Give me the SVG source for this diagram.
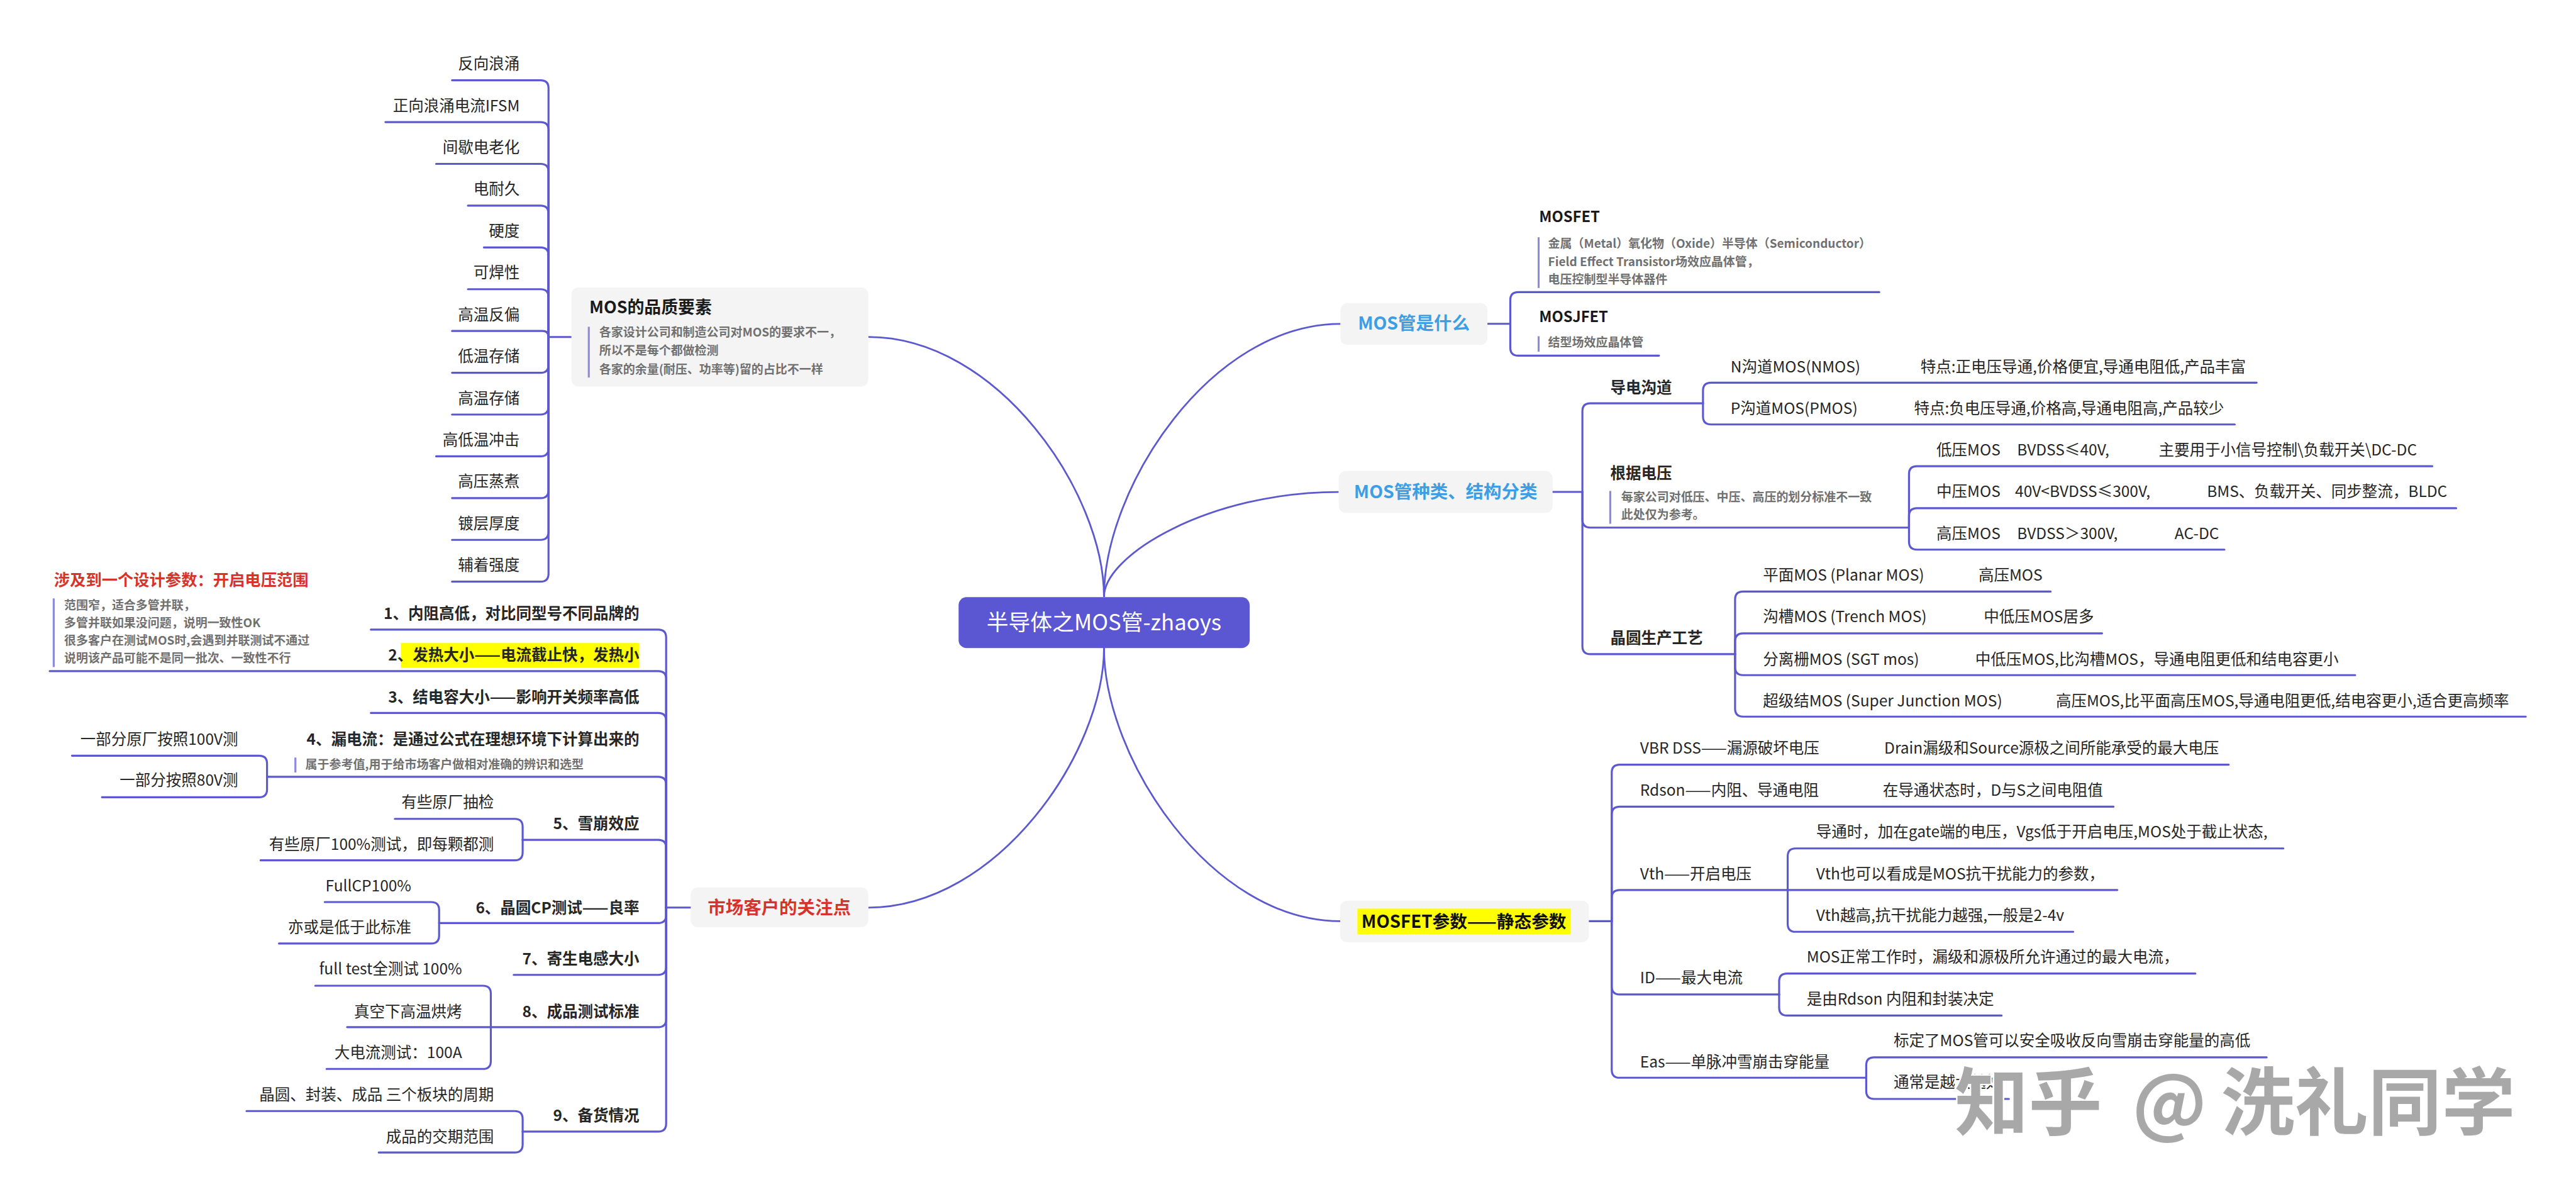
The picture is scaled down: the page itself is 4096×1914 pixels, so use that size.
<svg xmlns="http://www.w3.org/2000/svg" width="4096" height="1914" viewBox="0 0 4096 1914">
<style>
text{font-family:"Noto Sans CJK SC","Noto Sans",sans-serif;}
.t{font-size:31px;fill:#262626;}
.b{font-weight:bold;}
.e{text-anchor:end;}
.m{text-anchor:middle;}
.n{font-size:24px;font-weight:bold;fill:#707070;}
.k{fill:none;stroke:#5b58d0;stroke-width:4;stroke-linecap:round;stroke-linejoin:round;}
.c{fill:none;stroke:#5b58d0;stroke-width:3.5;}
.bx{fill:#f4f4f5;}
.bar{fill:#8e8adb;}
.blue{font-size:36px;font-weight:bold;fill:#3c9ee5;}
.ttl{font-size:30px;font-weight:bold;fill:#1a1a1a;}
</style>
<rect width="4096" height="1914" fill="#ffffff"/>
<g transform="scale(0.790734)">
<g id="connectors">
<path class="c" d="M2220,1200 C2220,991 2007,677.5 1746,677.5"/>
<path class="c" d="M2220,1200 C2220,980 2434,651 2695.5,651"/>
<path class="c" d="M2220,1200 C2220,1115.6 2432,989 2692,989"/>
<path class="c" d="M2220,1303 C2220,1511.6 2006.7,1824.6 1746,1824.6"/>
<path class="c" d="M2220,1303 C2220,1522.6 2434,1852 2695,1852"/>
<!-- quality list -->
<path class="k" d="M1149,677.5H1103"/>
<path class="k" d="M1103,677.5V177.4Q1103,161.4 1087,161.4H909"/>
<path class="k" d="M1103,677.5V261.4Q1103,245.4 1087,245.4H775"/>
<path class="k" d="M1103,677.5V345.4Q1103,329.4 1087,329.4H877"/>
<path class="k" d="M1103,677.5V429.4Q1103,413.4 1087,413.4H941"/>
<path class="k" d="M1103,677.5V513.4Q1103,497.4 1087,497.4H973"/>
<path class="k" d="M1103,677.5V597.4Q1103,581.4 1087,581.4H941"/>
<path class="k" d="M1103,677.5Q1103,665.4 1091,665.4H909"/>
<path class="k" d="M1103,677.5V733.4Q1103,749.4 1087,749.4H909"/>
<path class="k" d="M1103,677.5V817.4Q1103,833.4 1087,833.4H909"/>
<path class="k" d="M1103,677.5V901.4Q1103,917.4 1087,917.4H877"/>
<path class="k" d="M1103,677.5V985.4Q1103,1001.4 1087,1001.4H909"/>
<path class="k" d="M1103,677.5V1069.4Q1103,1085.4 1087,1085.4H909"/>
<path class="k" d="M1103,677.5V1153.4Q1103,1169.4 1087,1169.4H909"/>
<!-- what -->
<path class="k" d="M2991,651H3037"/>
<path class="k" d="M3037,651V603.3Q3037,587.3 3053,587.3H3779"/>
<path class="k" d="M3037,651V699Q3037,715 3053,715H3336"/>
<!-- kinds -->
<path class="k" d="M3122,989H3182"/>
<path class="k" d="M3182,989V826.7Q3182,810.7 3198,810.7H3424.5"/>
<path class="k" d="M3182,989V1044.7Q3182,1060.7 3198,1060.7H3838.7"/>
<path class="k" d="M3182,989V1299Q3182,1315 3198,1315H3489"/>
<path class="k" d="M3424.5,810.7V785.3Q3424.5,769.3 3440.5,769.3H4537.8"/>
<path class="k" d="M3424.5,810.7V837.3Q3424.5,853.3 3440.5,853.3H4493.8"/>
<path class="k" d="M3838.7,1060.7V953.3Q3838.7,937.3 3854.7,937.3H4891"/>
<path class="k" d="M3838.7,1060.7V1037.7Q3838.7,1021.7 3854.7,1021.7H4939"/>
<path class="k" d="M3838.7,1060.7V1089Q3838.7,1105 3854.7,1105H4473"/>
<path class="k" d="M3489,1315V1205.3Q3489,1189.3 3505,1189.3H4123.5"/>
<path class="k" d="M3489,1315V1289.3Q3489,1273.3 3505,1273.3H4227"/>
<path class="k" d="M3489,1315V1341.3Q3489,1357.3 3505,1357.3H4736"/>
<path class="k" d="M3489,1315V1424.7Q3489,1440.7 3505,1440.7H5079"/>
<!-- params -->
<path class="k" d="M3195,1852H3241"/>
<path class="k" d="M3241,1852V1553.3Q3241,1537.3 3257,1537.3H4481.6"/>
<path class="k" d="M3241,1852V1637.7Q3241,1621.7 3257,1621.7H4250"/>
<path class="k" d="M3241,1852V1805.3Q3241,1789.3 3257,1789.3H3594.8"/>
<path class="k" d="M3241,1852V1983.3Q3241,1999.3 3257,1999.3H3577.6"/>
<path class="k" d="M3241,1852V2150.7Q3241,2166.7 3257,2166.7H3752.7"/>
<path class="k" d="M3594.8,1789.3V1721.7Q3594.8,1705.7 3610.8,1705.7H4591.6"/>
<path class="k" d="M3594.8,1789.3H4257.7"/>
<path class="k" d="M3594.8,1789.3V1857.3Q3594.8,1873.3 3610.8,1873.3H4169"/>
<path class="k" d="M3577.6,1999.3V1973.3Q3577.6,1957.3 3593.6,1957.3H4414.6"/>
<path class="k" d="M3577.6,1999.3V2025.7Q3577.6,2041.7 3593.6,2041.7H4025"/>
<path class="k" d="M3752.7,2166.7V2141.7Q3752.7,2125.7 3768.7,2125.7H4558"/>
<path class="k" d="M3752.7,2166.7V2193.3Q3752.7,2209.3 3768.7,2209.3H4039.6"/>
<!-- market -->
<path class="k" d="M1389,1824.6H1339.5"/>
<path class="k" d="M1339.5,1824.6V1281.7Q1339.5,1265.7 1323.5,1265.7H745.7"/>
<path class="k" d="M1339.5,1824.6V1365.3Q1339.5,1349.3 1323.5,1349.3H100"/>
<path class="k" d="M1339.5,1824.6V1449.3Q1339.5,1433.3 1323.5,1433.3H745.7"/>
<path class="k" d="M1339.5,1824.6V1577.7Q1339.5,1561.7 1323.5,1561.7H537"/>
<path class="k" d="M1339.5,1824.6V1704.4Q1339.5,1688.4 1323.5,1688.4H1051"/>
<path class="k" d="M1339.5,1824.6V1839.7Q1339.5,1855.7 1323.5,1855.7H883"/>
<path class="k" d="M1339.5,1824.6V1943.9Q1339.5,1959.9 1323.5,1959.9H1033"/>
<path class="k" d="M1339.5,1824.6V2049Q1339.5,2065 1323.5,2065H987"/>
<path class="k" d="M1339.5,1824.6V2259Q1339.5,2275 1323.5,2275H1051"/>
<path class="k" d="M537,1561.7V1535.3Q537,1519.3 521,1519.3H144.7"/>
<path class="k" d="M537,1561.7V1586.7Q537,1602.7 521,1602.7H205"/>
<path class="k" d="M1051,1688.4V1662.3Q1051,1646.3 1035,1646.3H794"/>
<path class="k" d="M1051,1688.4V1713.6Q1051,1729.6 1035,1729.6H524"/>
<path class="k" d="M883,1855.7V1829.5Q883,1813.5 867,1813.5H653"/>
<path class="k" d="M883,1855.7V1880.9Q883,1896.9 867,1896.9H561"/>
<path class="k" d="M987,2065V1997.7Q987,1981.7 971,1981.7H634"/>
<path class="k" d="M987,2065H698"/>
<path class="k" d="M987,2065V2133Q987,2149 971,2149H656.6"/>
<path class="k" d="M1051,2275V2249.7Q1051,2233.7 1035,2233.7H495.7"/>
<path class="k" d="M1051,2275V2301Q1051,2317 1035,2317H761.6"/>
</g>

<g id="center"><rect x="1927.6" y="1200.4" width="585.3" height="102.6" rx="16" fill="#5b57d3"/><text x="2220" y="1267" class="m" style="font-size:44px;fill:#ffffff">半导体之MOS管-zhaoys</text></g>

<g id="quality"><rect class="bx" x="1149" y="578" width="597" height="199" rx="14"/><text x="1185" y="630" class="b" style="font-size:34px;fill:#1a1a1a">MOS的品质要素</text><rect class="bar" x="1182" y="657" width="4" height="102"/><text class="n"><tspan x="1205" y="676">各家设计公司和制造公司对MOS的要求不一，</tspan><tspan x="1205" y="713.5">所以不是每个都做检测</tspan><tspan x="1205" y="751">各家的余量(耐压、功率等)留的占比不一样</tspan></text></g>
<g id="q1"><text class="t e" x="1045" y="139.4">反向浪涌</text></g>
<g id="q2"><text class="t e" x="1045" y="223.4">正向浪涌电流IFSM</text></g>
<g id="q3"><text class="t e" x="1045" y="307.4">间歇电老化</text></g>
<g id="q4"><text class="t e" x="1045" y="391.4">电耐久</text></g>
<g id="q5"><text class="t e" x="1045" y="475.4">硬度</text></g>
<g id="q6"><text class="t e" x="1045" y="559.4">可焊性</text></g>
<g id="q7"><text class="t e" x="1045" y="643.4">高温反偏</text></g>
<g id="q8"><text class="t e" x="1045" y="727.4">低温存储</text></g>
<g id="q9"><text class="t e" x="1045" y="811.4">高温存储</text></g>
<g id="q10"><text class="t e" x="1045" y="895.4">高低温冲击</text></g>
<g id="q11"><text class="t e" x="1045" y="979.4">高压蒸煮</text></g>
<g id="q12"><text class="t e" x="1045" y="1063.4">镀层厚度</text></g>
<g id="q13"><text class="t e" x="1045" y="1147.4">辅着强度</text></g>

<g id="what"><rect class="bx" x="2695.5" y="609.3" width="295.5" height="84" rx="14"/><text class="blue m" x="2843" y="663">MOS管是什么</text></g>
<g id="mosfet"><text class="ttl" x="3095" y="447">MOSFET</text><rect class="bar" x="3092" y="477" width="4" height="102"/><text class="n"><tspan x="3113" y="498">金属（Metal）氧化物（Oxide）半导体（Semiconductor）</tspan><tspan x="3113" y="535">Field Effect Transistor场效应晶体管，</tspan><tspan x="3113" y="571">电压控制型半导体器件</tspan></text></g>
<g id="mosjfet"><text class="ttl" x="3095" y="647">MOSJFET</text><rect class="bar" x="3092" y="676" width="4" height="31"/><text class="n" x="3113" y="697">结型场效应晶体管</text></g>

<g id="kinds"><rect class="bx" x="2692" y="947" width="430" height="84" rx="14"/><text class="blue m" x="2907" y="1002">MOS管种类、结构分类</text></g>
<g id="channel"><text class="t b" x="3238" y="790">导电沟道</text></g>
<g id="nmos"><text class="t" y="748.5"><tspan x="3480">N沟道MOS(NMOS)</tspan><tspan x="3862">特点:正电压导通,价格便宜,导通电阻低,产品丰富</tspan></text></g>
<g id="pmos"><text class="t" y="832"><tspan x="3480">P沟道MOS(PMOS)</tspan><tspan x="3849">特点:负电压导通,价格高,导通电阻高,产品较少</tspan></text></g>
<g id="voltage"><text class="t b" x="3238" y="962">根据电压</text><rect class="bar" x="3236" y="987" width="4" height="66"/><text class="n"><tspan x="3260" y="1008">每家公司对低压、中压、高压的划分标准不一致</tspan><tspan x="3260" y="1043">此处仅为参考。</tspan></text></g>
<g id="lv"><text class="t" y="915"><tspan x="3894">低压MOS</tspan><tspan x="4056">BVDSS≤40V,</tspan><tspan x="4341">主要用于小信号控制\负载开关\DC-DC</tspan></text></g>
<g id="mv"><text class="t" y="998.5"><tspan x="3894">中压MOS</tspan><tspan x="4052">40V&lt;BVDSS≤300V,</tspan><tspan x="4438">BMS、负载开关、同步整流，BLDC</tspan></text></g>
<g id="hv"><text class="t" y="1083.5"><tspan x="3894">高压MOS</tspan><tspan x="4056">BVDSS＞300V,</tspan><tspan x="4373">AC-DC</tspan></text></g>
<g id="wafer"><text class="t b" x="3238" y="1293.5">晶圆生产工艺</text></g>
<g id="planar"><text class="t" y="1167"><tspan x="3545">平面MOS (Planar MOS)</tspan><tspan x="3978.5">高压MOS</tspan></text></g>
<g id="trench"><text class="t" y="1251"><tspan x="3545">沟槽MOS (Trench MOS)</tspan><tspan x="3989">中低压MOS居多</tspan></text></g>
<g id="sgt"><text class="t" y="1337"><tspan x="3545">分离栅MOS (SGT mos)</tspan><tspan x="3972">中低压MOS,比沟槽MOS，导通电阻更低和结电容更小</tspan></text></g>
<g id="sj"><text class="t" y="1420"><tspan x="3545">超级结MOS (Super Junction MOS)</tspan><tspan x="4134">高压MOS,比平面高压MOS,导通电阻更低,结电容更小,适合更高频率</tspan></text></g>

<g id="params"><rect class="bx" x="2695" y="1810.7" width="500" height="83.6" rx="14"/><rect x="2729.5" y="1826.7" width="428.5" height="51.6" fill="#ffff00"/><text class="b m" x="2943.7" y="1865" style="font-size:35px;fill:#111111">MOSFET参数——静态参数</text></g>
<g id="vbr"><text class="t" y="1515"><tspan x="3298">VBR DSS——漏源破坏电压</tspan><tspan x="3789">Drain漏级和Source源极之间所能承受的最大电压</tspan></text></g>
<g id="rdson"><text class="t" y="1600"><tspan x="3298">Rdson——内阻、导通电阻</tspan><tspan x="3786">在导通状态时，D与S之间电阻值</tspan></text></g>
<g id="vth"><text class="t" x="3298" y="1768">Vth——开启电压</text></g>
<g id="vth1"><text class="t" x="3652" y="1683.5">导通时，加在gate端的电压，Vgs低于开启电压,MOS处于截止状态,</text></g>
<g id="vth2"><text class="t" x="3652" y="1768">Vth也可以看成是MOS抗干扰能力的参数，</text></g>
<g id="vth3"><text class="t" x="3652" y="1852">Vth越高,抗干扰能力越强,一般是2-4v</text></g>
<g id="id"><text class="t" x="3298" y="1977">ID——最大电流</text></g>
<g id="id1"><text class="t" x="3633" y="1935">MOS正常工作时，漏级和源极所允许通过的最大电流，</text></g>
<g id="id2"><text class="t" x="3633" y="2019.5">是由Rdson 内阻和封装决定</text></g>
<g id="eas"><text class="t" x="3298" y="2146">Eas——单脉冲雪崩击穿能量</text></g>
<g id="eas1"><text class="t" x="3808" y="2103.5">标定了MOS管可以安全吸收反向雪崩击穿能量的高低</text></g>
<g id="eas2"><text class="t" x="3808" y="2187">通常是越大越好</text></g>

<g id="market"><rect class="bx" x="1389" y="1784" width="357" height="80" rx="14"/><text class="m b" x="1567" y="1837" style="font-size:36px;fill:#d7332b">市场客户的关注点</text></g>
<g id="m1"><text class="t b e" x="1285.5" y="1245">1、内阻高低，对比同型号不同品牌的</text></g>
<g id="m2"><rect x="806" y="1292.7" width="479.5" height="50" fill="#ffff00"/><text class="t b e" x="1285.5" y="1328.5">2、发热大小——电流截止快，发热小</text></g>
<g id="design"><text class="b" x="108.5" y="1177" style="font-size:32px;fill:#d7332b">涉及到一个设计参数：开启电压范围</text><rect class="bar" x="106" y="1203" width="4" height="138"/><text class="n"><tspan x="129" y="1225">范围窄，适合多管并联，</tspan><tspan x="129" y="1261.5">多管并联如果没问题，说明一致性OK</tspan><tspan x="129" y="1296.5">很多客户在测试MOS时,会遇到并联测试不通过</tspan><tspan x="129" y="1332">说明该产品可能不是同一批次、一致性不行</tspan></text></g>
<g id="m3"><text class="t b e" x="1285.5" y="1412">3、结电容大小——影响开关频率高低</text></g>
<g id="m4"><text class="t b e" x="1285.5" y="1497">4、漏电流：是通过公式在理想环境下计算出来的</text><rect class="bar" x="592" y="1523" width="4" height="30"/><text class="n" x="614" y="1545">属于参考值,用于给市场客户做相对准确的辨识和选型</text></g>
<g id="m4a"><text class="t e" x="478.8" y="1497">一部分原厂按照100V测</text></g>
<g id="m4b"><text class="t e" x="478.8" y="1580">一部分按照80V测</text></g>
<g id="m5"><text class="t b e" x="1285.5" y="1666.5">5、雪崩效应</text></g>
<g id="m5a"><text class="t e" x="993" y="1624">有些原厂抽检</text></g>
<g id="m5b"><text class="t e" x="993" y="1709">有些原厂100%测试，即每颗都测</text></g>
<g id="m6"><text class="t b e" x="1285.5" y="1836">6、晶圆CP测试——良率</text></g>
<g id="m6a"><text class="t e" x="827" y="1792.5">FullCP100%</text></g>
<g id="m6b"><text class="t e" x="827" y="1876">亦或是低于此标准</text></g>
<g id="m7"><text class="t b e" x="1285.5" y="1939">7、寄生电感大小</text></g>
<g id="m8"><text class="t b e" x="1285.5" y="2044.5">8、成品测试标准</text></g>
<g id="m8a"><text class="t e" x="929" y="1959.5">full test全测试 100%</text></g>
<g id="m8b"><text class="t e" x="929" y="2044.5">真空下高温烘烤</text></g>
<g id="m8c"><text class="t e" x="929" y="2127">大电流测试：100A</text></g>
<g id="m9"><text class="t b e" x="1285.5" y="2253">9、备货情况</text></g>
<g id="m9a"><text class="t e" x="993" y="2212.5">晶圆、封装、成品 三个板块的周期</text></g>
<g id="m9b"><text class="t e" x="993" y="2296.5">成品的交期范围</text></g>

<g id="watermark"><text y="2270" style="font-size:148px;font-weight:bold;fill:#a8a8a8;stroke:#ffffff;stroke-width:6px;paint-order:stroke"><tspan x="3931">知乎</tspan><tspan x="4288">@</tspan><tspan x="4466">洗礼同学</tspan></text></g>
</g>
</svg>
